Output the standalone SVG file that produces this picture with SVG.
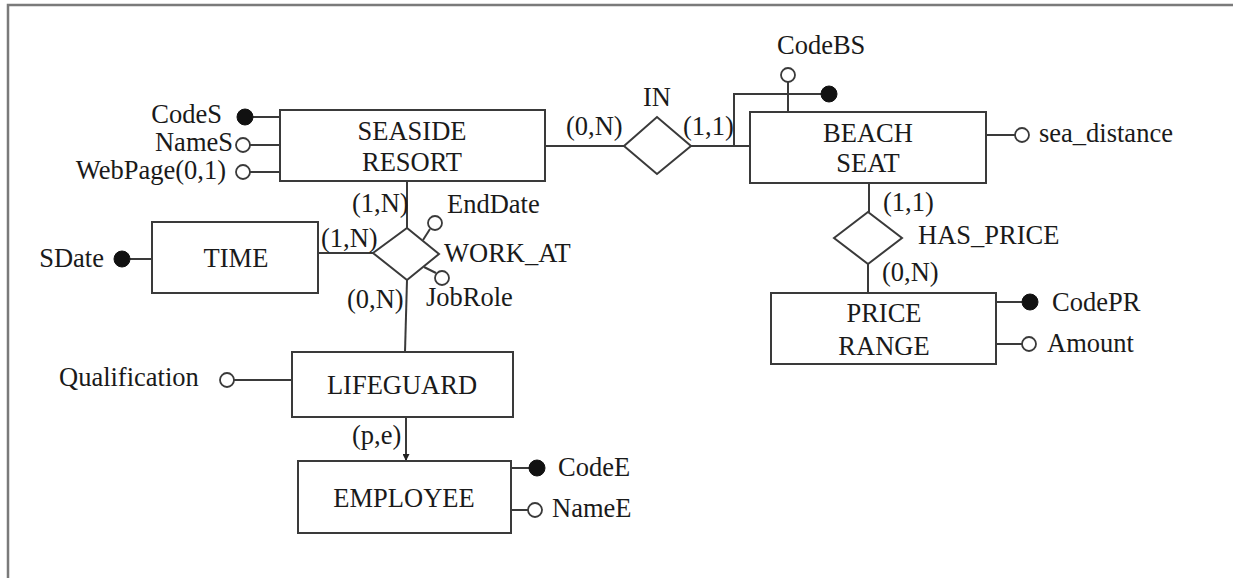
<svg xmlns="http://www.w3.org/2000/svg" width="1233" height="578" viewBox="0 0 1233 578">
<style>
text{font-family:"Liberation Serif","Times New Roman",serif;font-size:26.5px;fill:#1a1a1a}
.m{text-anchor:middle}
.e{text-anchor:end}
.box{fill:#fff;stroke:#3a3a3a;stroke-width:2}
.rel{fill:#fff;stroke:#3a3a3a;stroke-width:2}
.ln{stroke:#3a3a3a;stroke-width:2;fill:none}
.key{fill:#111;stroke:#111;stroke-width:1}
.att{fill:#fff;stroke:#3a3a3a;stroke-width:1.8}
.frame{stroke:#7a7a7a;stroke-width:2.5;fill:none}
</style>
<defs>
<marker id="arr" viewBox="0 0 10 10" refX="10" refY="5" markerWidth="7" markerHeight="7" orient="auto" markerUnits="userSpaceOnUse">
<path d="M0,0 L10,5 L0,10 z" fill="#222"/>
</marker>
</defs>
<rect width="1233" height="578" fill="#fff"/>
<path class="frame" d="M8,578 V5 H1233"/>

<g id="connectors">
<line class="ln" x1="253" y1="117" x2="280" y2="117"/>
<line class="ln" x1="250" y1="145" x2="280" y2="145"/>
<line class="ln" x1="250" y1="172" x2="280" y2="172"/>
<line class="ln" x1="545" y1="146" x2="624" y2="146"/>
<line class="ln" x1="691" y1="146" x2="750" y2="146"/>
<polyline class="ln" points="734,146 734,94 822,94"/>
<line class="ln" x1="788" y1="82" x2="788" y2="112"/>
<line class="ln" x1="986" y1="135" x2="1015" y2="135"/>
<line class="ln" x1="869" y1="183" x2="869" y2="212"/>
<line class="ln" x1="868" y1="264" x2="868" y2="293"/>
<line class="ln" x1="996" y1="302" x2="1022" y2="302"/>
<line class="ln" x1="996" y1="344" x2="1022" y2="344"/>
<line class="ln" x1="407" y1="181" x2="407" y2="228"/>
<line class="ln" x1="318" y1="253" x2="373" y2="253"/>
<line class="ln" x1="407" y1="280" x2="405" y2="352"/>
<line class="ln" x1="423" y1="240" x2="430" y2="229"/>
<line class="ln" x1="424" y1="267" x2="436" y2="273"/>
<line class="ln" x1="130" y1="259" x2="152" y2="259"/>
<line class="ln" x1="234" y1="380" x2="292" y2="380"/>
<line class="ln" x1="406" y1="417" x2="406" y2="461" marker-end="url(#arr)"/>
<line class="ln" x1="511" y1="468" x2="529" y2="468"/>
<line class="ln" x1="511" y1="510" x2="528" y2="510"/>
</g>

<g id="seaside_resort">
<rect class="box" x="280" y="110" width="265" height="71"/>
<text class="m" x="412" y="140">SEASIDE</text>
<text class="m" x="412" y="171">RESORT</text>
<circle class="key" cx="245" cy="117" r="8"/>
<text class="e" x="222" y="123">CodeS</text>
<circle class="att" cx="243" cy="145" r="7"/>
<text class="e" x="233" y="151">NameS</text>
<circle class="att" cx="243" cy="172" r="7"/>
<text class="e" x="226" y="179">WebPage(0,1)</text>
</g>

<g id="in">
<polygon class="rel" points="624,146 657,117 691,146 657,174"/>
<text class="m" x="657" y="106">IN</text>
<text x="566" y="135">(0,N)</text>
<text x="683" y="135">(1,1)</text>
</g>

<g id="beach_seat">
<rect class="box" x="750" y="112" width="236" height="71"/>
<text class="m" x="868" y="142">BEACH</text>
<text class="m" x="868" y="172">SEAT</text>
<circle class="key" cx="829" cy="94" r="8"/>
<circle class="att" cx="788" cy="75" r="7"/>
<text x="777" y="54">CodeBS</text>
<circle class="att" cx="1022" cy="135" r="7"/>
<text x="1039" y="142">sea_distance</text>
</g>

<g id="has_price">
<polygon class="rel" points="834,238 868,212 902,238 868,264"/>
<text x="918" y="244">HAS_PRICE</text>
<text x="883" y="211">(1,1)</text>
<text x="882" y="281">(0,N)</text>
</g>

<g id="price_range">
<rect class="box" x="771" y="293" width="225" height="71"/>
<text class="m" x="884" y="322">PRICE</text>
<text class="m" x="884" y="355">RANGE</text>
<circle class="key" cx="1030" cy="302" r="8"/>
<text x="1052" y="311">CodePR</text>
<circle class="att" cx="1029" cy="344" r="7"/>
<text x="1047" y="352">Amount</text>
</g>

<g id="time">
<rect class="box" x="152" y="222" width="166" height="71"/>
<text class="m" x="236" y="267">TIME</text>
<circle class="key" cx="122" cy="259" r="8"/>
<text class="e" x="104" y="267">SDate</text>
</g>

<g id="work_at">
<polygon class="rel" points="373,253 407,228 439,254 407,280"/>
<text x="444" y="262">WORK_AT</text>
<text x="321" y="247">(1,N)</text>
<text x="352" y="212">(1,N)</text>
<text x="347" y="308">(0,N)</text>
<circle class="att" cx="435" cy="223" r="7"/>
<text x="447" y="213">EndDate</text>
<circle class="att" cx="442" cy="278" r="7"/>
<text x="426" y="306">JobRole</text>
</g>

<g id="lifeguard">
<rect class="box" x="292" y="352" width="221" height="65"/>
<text class="m" x="402" y="394">LIFEGUARD</text>
<circle class="att" cx="227" cy="380" r="7"/>
<text x="59" y="386">Qualification</text>
<text x="352" y="444">(p,e)</text>
</g>

<g id="employee">
<rect class="box" x="298" y="461" width="213" height="72"/>
<text class="m" x="404" y="507">EMPLOYEE</text>
<circle class="key" cx="537" cy="468" r="8"/>
<text x="558" y="476">CodeE</text>
<circle class="att" cx="535" cy="510" r="7"/>
<text x="552" y="517">NameE</text>
</g>
</svg>
